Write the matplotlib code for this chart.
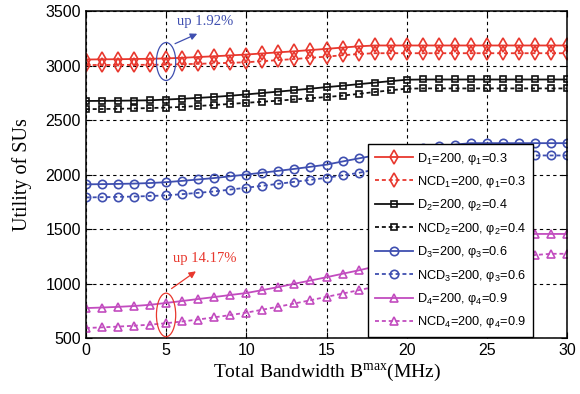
import matplotlib
matplotlib.use("Agg")
import matplotlib.pyplot as plt
from matplotlib.patches import Ellipse
import numpy as np

plt.rcParams['font.family'] = ['Liberation Sans', 'DejaVu Sans']
plt.rcParams['mathtext.default'] = 'regular'

bandwidth = list(range(0, 31))

d1 = [3055, 3057, 3058, 3060, 3062, 3065, 3071, 3078, 3085, 3093, 3101,
      3111, 3121, 3131, 3142, 3153, 3165, 3176, 3184, 3184, 3184,
      3184, 3184, 3184, 3184, 3184, 3184, 3184, 3184, 3184, 3184]
ncd1 = [3005, 3005, 3006, 3006, 3007, 3008, 3012, 3016, 3020, 3025, 3030,
        3040, 3050, 3060, 3071, 3082, 3094, 3106, 3113, 3113, 3113,
        3113, 3113, 3113, 3113, 3113, 3113, 3113, 3113, 3113, 3113]
d2 = [2675, 2676, 2677, 2679, 2681, 2688, 2695, 2703, 2712, 2723, 2735,
      2748, 2761, 2774, 2788, 2802, 2815, 2829, 2843, 2857, 2870,
      2872, 2872, 2872, 2872, 2872, 2872, 2872, 2872, 2872, 2872]
ncd2 = [2600, 2601, 2603, 2606, 2610, 2614, 2621, 2629, 2638, 2648, 2658,
        2668, 2678, 2689, 2700, 2711, 2724, 2740, 2757, 2773, 2788,
        2790, 2790, 2790, 2790, 2790, 2790, 2790, 2790, 2790, 2790]
d3 = [1910, 1912, 1914, 1917, 1922, 1930, 1942, 1955, 1968, 1984, 2000,
      2017, 2034, 2052, 2071, 2091, 2120, 2148, 2175, 2200, 2222,
      2242, 2260, 2275, 2288, 2288, 2288, 2288, 2288, 2288, 2288]
ncd3 = [1790, 1792, 1795, 1798, 1803, 1809, 1820, 1832, 1845, 1862, 1879,
        1897, 1915, 1933, 1951, 1970, 1993, 2015, 2045, 2075, 2100,
        2125, 2145, 2160, 2170, 2175, 2175, 2175, 2175, 2175, 2175]
d4 = [775, 780, 786, 794, 805, 822, 840, 858, 876, 895, 913,
      940, 968, 998, 1028, 1058, 1090, 1121, 1155, 1190, 1225,
      1260, 1295, 1330, 1365, 1400, 1430, 1450, 1455, 1455, 1455]
ncd4 = [592, 598, 605, 613, 623, 636, 652, 670, 690, 711, 733,
        760, 788, 817, 847, 878, 908, 939, 970, 1000, 1030,
        1060, 1090, 1120, 1150, 1180, 1210, 1240, 1262, 1273, 1273]

labels = ['D$_1$=200, φ$_1$=0.3', 'NCD$_1$=200, φ$_1$=0.3',
          'D$_2$=200, φ$_2$=0.4', 'NCD$_2$=200, φ$_2$=0.4',
          'D$_3$=200, φ$_3$=0.6', 'NCD$_3$=200, φ$_3$=0.6',
          'D$_4$=200, φ$_4$=0.9', 'NCD$_4$=200, φ$_4$=0.9']

xticks = [0, 5, 10, 15, 20, 25, 30]
yticks = [500, 1000, 1500, 2000, 2500, 3000, 3500]

red = '#e8382e'
black = '#111111'
blue = '#3f4fb0'
mag = '#c24cbf'
dash = (0, (2.2, 1.6))

fig = plt.figure(figsize=(5.8, 3.94), dpi=100)
ax = fig.add_axes([0.148, 0.142, 0.830, 0.830])

series = [
    (d1, red, 'd', '-', 6.8), (ncd1, red, 'd', dash, 6.8),
    (d2, black, 's', '-', 4.8), (ncd2, black, 's', dash, 4.8),
    (d3, blue, 'o', '-', 6), (ncd3, blue, 'o', dash, 6),
    (d4, mag, '^', '-', 6.2), (ncd4, mag, '^', dash, 6.2),
]
for (vals, c, m, ls, ms), lab in zip(series, labels):
    ax.plot(bandwidth, vals, color=c, marker=m, linestyle=ls, markersize=ms,
            markerfacecolor='none', markeredgecolor=c, markeredgewidth=1.2,
            linewidth=1.3, label=lab)

ax.set_xlim(0, 30)
ax.set_ylim(500, 3500)
ax.set_xticks(xticks)
ax.set_yticks(yticks)
ax.tick_params(direction='in', labelsize=11.5, length=4, top=True, right=True)
ax.grid(True, color='black', linestyle=(0, (3, 3)), linewidth=0.8)
for s in ax.spines.values():
    s.set_linewidth(1.1)

ax.set_xlabel('Total Bandwidth B$^{max}$(MHz)', family='Liberation Serif', fontsize=14, labelpad=3)
ax.set_ylabel('Utility of SUs', family='Liberation Serif', fontsize=14.5, labelpad=10)

leg = ax.legend(loc='lower right', bbox_to_anchor=(0.929, 0.003), fontsize=9.2,
                frameon=True, fancybox=False, edgecolor='black', framealpha=1,
                handlelength=3.0, labelspacing=0.58, borderpad=0.52, handletextpad=0.3,
                borderaxespad=0)
leg.get_frame().set_linewidth(1.0)

# annotations
ax.add_patch(Ellipse((5, 3037), 1.2, 348, fill=False, edgecolor=blue, linewidth=0.9, zorder=5))
ax.annotate('', xy=(7.1, 3302), xytext=(5.4, 3190),
            arrowprops=dict(arrowstyle='-|>', color=blue, lw=0.9, mutation_scale=10))
ax.text(7.42, 3400, 'up 1.92%', color=blue, family='Liberation Serif', fontsize=10.5,
        ha='center', va='center')

ax.add_patch(Ellipse((5, 712), 1.2, 400, fill=False, edgecolor=red, linewidth=0.9, zorder=5))
ax.annotate('', xy=(7.0, 1127), xytext=(5.2, 939),
            arrowprops=dict(arrowstyle='-|>', color=red, lw=0.9, mutation_scale=10))
ax.text(7.42, 1230, 'up 14.17%', color=red, family='Liberation Serif', fontsize=10.5,
        ha='center', va='center')

fig.savefig('out.png', dpi=100)
